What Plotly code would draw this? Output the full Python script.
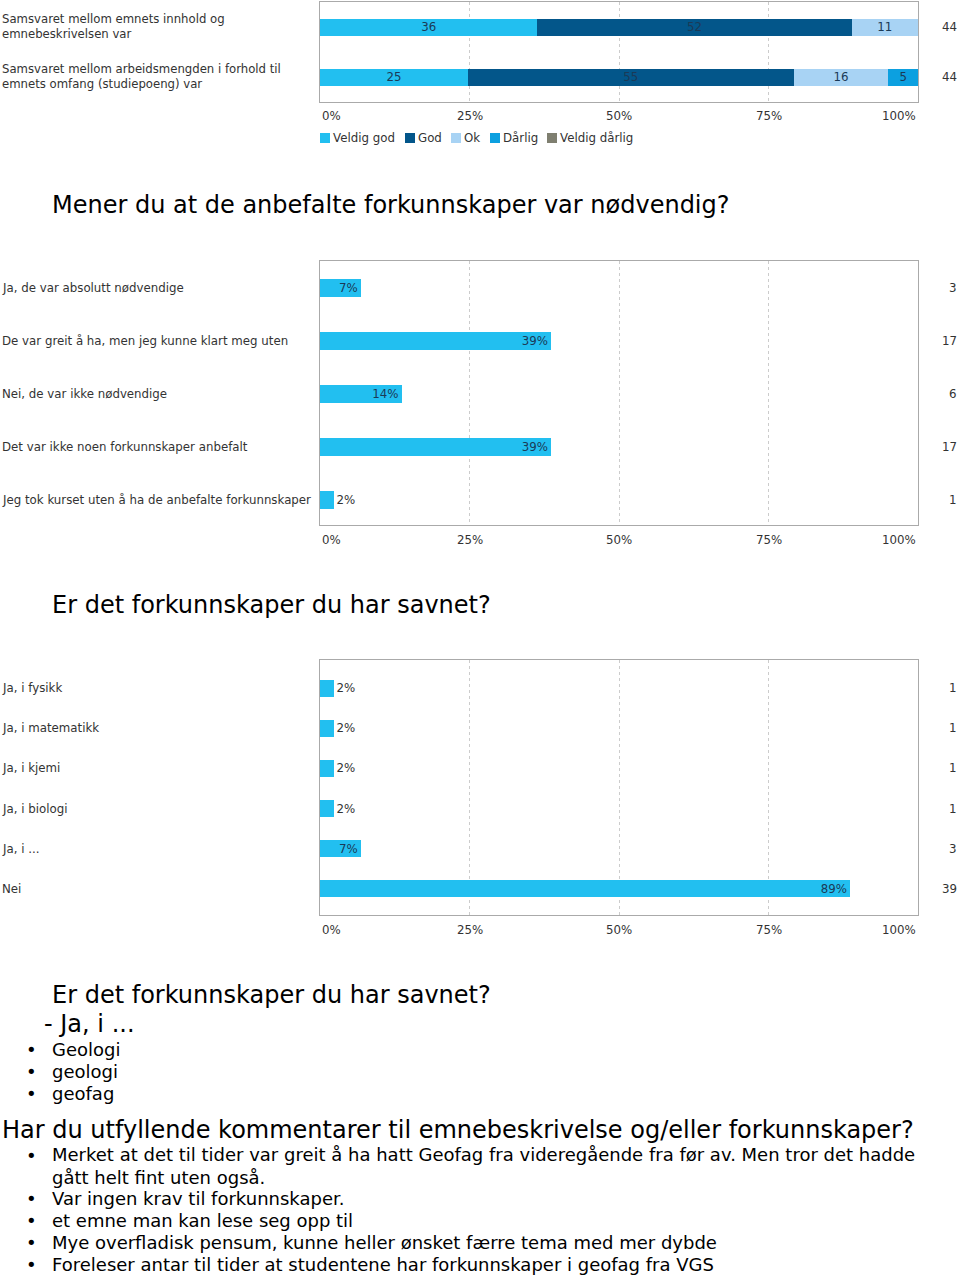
import plotly.graph_objects as go

W, H = 960, 1276
def fx(p): return p / W
def fy(p): return 1 - p / H

FONT = "DejaVu Sans"
TXT = "#333333"
BARTXT = "#1b3a57"

# ---------------- data ----------------
top_questions = ["Samsvaret mellom emnets innhold og<br>emnebeskrivelsen var",
                 "Samsvaret mellom arbeidsmengden i forhold til<br>emnets omfang (studiepoeng) var"]
top_series = ["Veldig god", "God", "Ok", "Dårlig", "Veldig dårlig"]
top_colors = ["#22bff0", "#03568a", "#a8d3f4", "#0ca0e0", "#7f7f70"]
top_values = {
    "Veldig god": [36, 25],
    "God": [52, 55],
    "Ok": [11, 16],
    "Dårlig": [0, 5],
    "Veldig dårlig": [0, 0],
}
top_n = [44, 44]

mid_title = "Mener du at de anbefalte forkunnskaper var nødvendig?"
mid_cats = ["Ja, de var absolutt nødvendige",
            "De var greit å ha, men jeg kunne klart meg uten",
            "Nei, de var ikke nødvendige",
            "Det var ikke noen forkunnskaper anbefalt",
            "Jeg tok kurset uten å ha de anbefalte forkunnskaper"]
mid_counts = [3, 17, 6, 17, 1]
mid_n = 44

bot_title = "Er det forkunnskaper du har savnet?"
bot_cats = ["Ja, i fysikk", "Ja, i matematikk", "Ja, i kjemi", "Ja, i biologi", "Ja, i ...", "Nei"]
bot_counts = [1, 1, 1, 1, 3, 39]
bot_n = 44

x_ticks = [0, 25, 50, 75, 100]
x_tick_labels = ["0%", "25%", "50%", "75%", "100%"]

ja_title = "Er det forkunnskaper du har savnet?"
ja_sub = "- Ja, i ..."
ja_answers = ["Geologi", "geologi", "geofag"]
comm_title = "Har du utfyllende kommentarer til emnebeskrivelse og/eller forkunnskaper?"
comm_answers = ["Merket at det til tider var greit å ha hatt Geofag fra videregående fra før av. Men tror det hadde<br>gått helt fint uten også.",
                "Var ingen krav til forkunnskaper.",
                "et emne man kan lese seg opp til",
                "Mye overfladisk pensum, kunne heller ønsket færre tema med mer dybde",
                "Foreleser antar til tider at studentene har forkunnskaper i geofag fra VGS"]

BAR_COLOR = "#22bff0"
LBL = 11.8

fig = go.Figure()

# ---------------- top stacked chart ----------------
totals = [sum(top_values[k][i] for k in top_series) for i in range(len(top_questions))]
for s, c in zip(top_series, top_colors):
    vals = top_values[s]
    xs = [v / t * 100 for v, t in zip(vals, totals)]
    fig.add_trace(go.Bar(
        x=xs, y=list(range(len(top_questions))), orientation="h", width=0.34,
        marker=dict(color=c, line=dict(width=0)), name=s, showlegend=False,
        text=[str(v) if v else "" for v in vals], textposition="inside",
        insidetextanchor="middle", textangle=0, constraintext="none",
        insidetextfont=dict(family=FONT, size=LBL, color=BARTXT),
        xaxis="x", yaxis="y", hoverinfo="skip"))

# ---------------- middle chart ----------------
mid_pct = [c / mid_n * 100 for c in mid_counts]
fig.add_trace(go.Bar(
    x=mid_pct, y=list(range(len(mid_cats))), orientation="h", width=0.33,
    marker=dict(color=BAR_COLOR, line=dict(width=0)), showlegend=False,
    text=[f"{round(p)}%" for p in mid_pct], textposition="auto",
    insidetextanchor="end", textangle=0, constraintext="none",
    insidetextfont=dict(family=FONT, size=LBL, color=BARTXT),
    outsidetextfont=dict(family=FONT, size=LBL, color=TXT),
    xaxis="x2", yaxis="y2", hoverinfo="skip"))

# ---------------- bottom chart ----------------
bot_pct = [c / bot_n * 100 for c in bot_counts]
fig.add_trace(go.Bar(
    x=bot_pct, y=list(range(len(bot_cats))), orientation="h", width=0.42,
    marker=dict(color=BAR_COLOR, line=dict(width=0)), showlegend=False,
    text=[f"{round(p)}%" for p in bot_pct], textposition="auto",
    insidetextanchor="end", textangle=0, constraintext="none",
    insidetextfont=dict(family=FONT, size=LBL, color=BARTXT),
    outsidetextfont=dict(family=FONT, size=LBL, color=TXT),
    xaxis="x3", yaxis="y3", hoverinfo="skip"))

xax = dict(range=[0, 100], tickvals=[25, 50, 75], showticklabels=False,
           showgrid=True, gridcolor="#cccccc", griddash="dot", gridwidth=1,
           zeroline=False, showline=True, linecolor="#aaaaaa", linewidth=1, mirror=True,
           ticks="", fixedrange=True)
yax = dict(showticklabels=False, showgrid=False, zeroline=False, showline=True,
           linecolor="#aaaaaa", linewidth=1, mirror=True, ticks="")

panels = [
    ("x", "y", 2, 102, [1.5, -0.5]),
    ("x2", "y2", 261, 525, [4.47, -0.51]),
    ("x3", "y3", 660, 915, [5.65, -0.70]),
]
layout_axes = {}
for xa, ya, t, b, rng in panels:
    xk = "xaxis" if xa == "x" else "xaxis" + xa[1:]
    yk = "yaxis" if ya == "y" else "yaxis" + ya[1:]
    layout_axes[xk] = dict(xax, domain=[fx(320), fx(918)], anchor=ya)
    layout_axes[yk] = dict(yax, domain=[fy(b), fy(t)], anchor=xa, range=rng)

annotations = []
def cat_labels(cats, counts, ya, size):
    for i, (c, n) in enumerate(zip(cats, counts)):
        annotations.append(dict(x=fx(0), xref="paper", y=i, yref=ya, text=c,
                                xanchor="left", yanchor="middle", showarrow=False, align="left",
                                font=dict(family=FONT, size=size, color=TXT)))
        annotations.append(dict(x=fx(959), xref="paper", y=i, yref=ya, text=str(n),
                                xanchor="right", yanchor="middle", showarrow=False,
                                font=dict(family=FONT, size=LBL, color=TXT)))

cat_labels(top_questions, top_n, "y", 11.7)
cat_labels(mid_cats, mid_counts, "y2", LBL)
cat_labels(bot_cats, bot_counts, "y3", LBL)

anchors = ["left", "center", "center", "center", "right"]
for xa, py in [("x", 116), ("x2", 540), ("x3", 930)]:
    for v, lab, an in zip(x_ticks, x_tick_labels, anchors):
        annotations.append(dict(x=v, xref=xa, y=fy(py), yref="paper", text=lab,
                                xanchor=an, yanchor="middle", showarrow=False,
                                font=dict(family=FONT, size=LBL, color=TXT)))

legend_px = [320, 405, 451, 490, 547]
shapes = []
for s, c, lx in zip(top_series, top_colors, legend_px):
    shapes.append(dict(type="rect", xref="paper", yref="paper",
                       x0=fx(lx), x1=fx(lx + 10), y0=fy(143), y1=fy(133),
                       fillcolor=c, line=dict(width=0)))
    annotations.append(dict(x=fx(lx + 11), xref="paper", y=fy(138), yref="paper", text=s,
                            xanchor="left", yanchor="middle", showarrow=False,
                            font=dict(family=FONT, size=LBL, color=TXT)))

def txt(x, y, s, size):
    annotations.append(dict(x=fx(x - 2), xref="paper", y=fy(y), yref="paper", text=s,
                            xanchor="left", yanchor="middle", showarrow=False, align="left",
                            font=dict(family=FONT, size=size, color="#000000")))

HEAD = 24
BODY = 18
txt(52, 205, mid_title, HEAD)
txt(52, 605, bot_title, HEAD)
txt(52, 995, ja_title, HEAD)
txt(44, 1024, ja_sub, HEAD)
for i, a in enumerate(ja_answers):
    y = 1049 + 22 * i
    txt(26, y, "•", BODY)
    txt(52, y, a, BODY)
txt(2, 1130, comm_title, HEAD)
ys = [1166, 1198, 1220, 1242, 1264]
for a, y in zip(comm_answers, ys):
    txt(26, 1155 if "<br>" in a else y, "•", BODY)
    txt(52, y, a, BODY)

fig.update_layout(
    width=W, height=H, margin=dict(l=0, r=0, t=0, b=0),
    paper_bgcolor="white", plot_bgcolor="white",
    showlegend=False, barmode="stack",
    annotations=annotations, shapes=shapes,
    **layout_axes,
)
fig.write_html("out.html")
